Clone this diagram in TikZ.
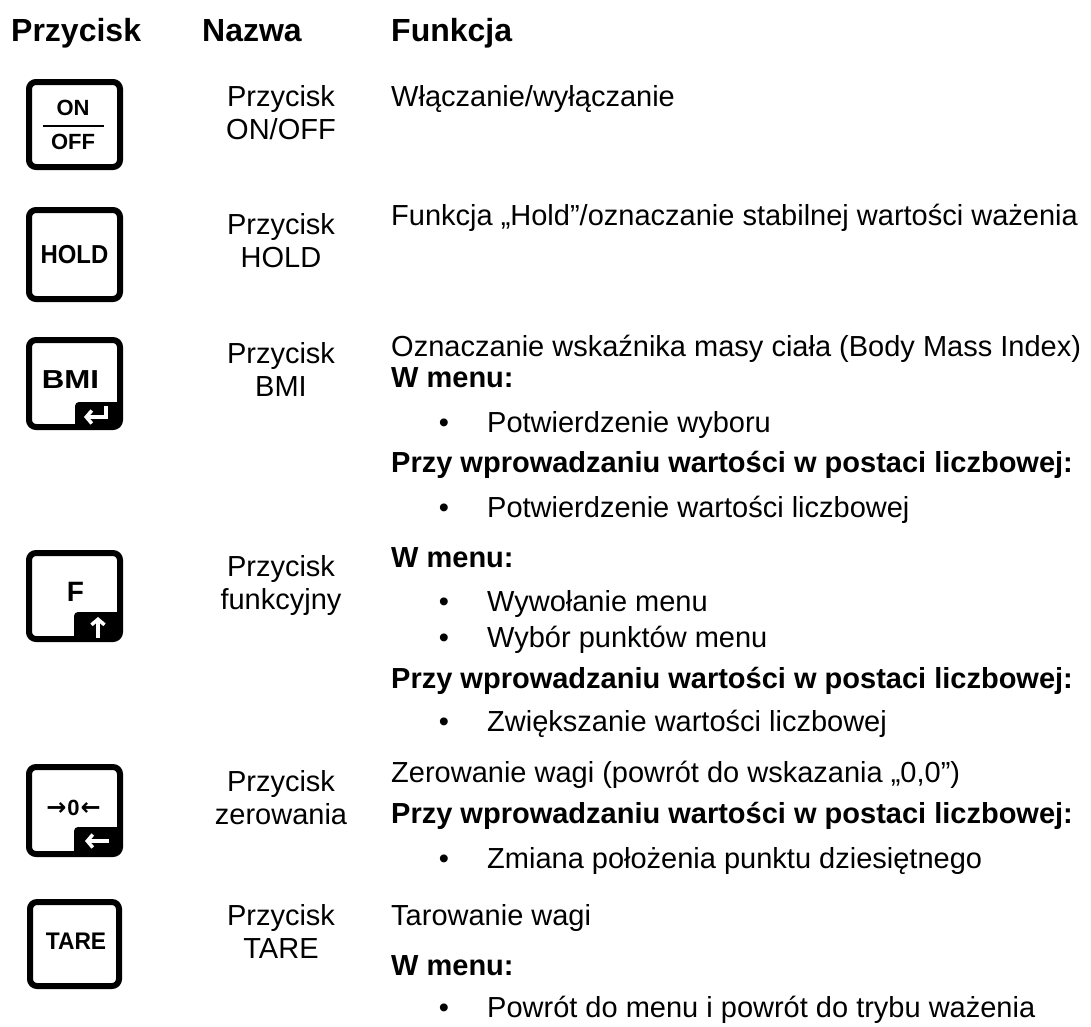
\documentclass[tikz,border=0pt]{standalone}
\usepackage{fontspec}
\setmainfont{Liberation Sans}
\newfontfamily\arrowfont{DejaVu Sans}
\usetikzlibrary{arrows.meta}
\newcommand{\bodysize}{\fontsize{29pt}{33pt}\selectfont}
\newcommand{\headsize}{\fontsize{32pt}{36pt}\selectfont\bfseries}
\newcommand{\keysize}[1]{\fontsize{#1pt}{#1pt}\selectfont\bfseries}

\begin{document}
\begin{tikzpicture}[x=1pt,y=-1pt,
  headtxt/.style={font=\headsize, anchor=base west, inner sep=0pt},
  functxt/.style={font=\bodysize, anchor=base west, inner sep=0pt},
  subtxt/.style={font=\bodysize\bfseries, anchor=base west, inner sep=0pt},
  bulletdot/.style={font=\bodysize, anchor=base, inner sep=0pt},
  namecol/.style={font=\bodysize, anchor=base, inner sep=0pt},
  keybox/.style={draw, line width=6pt, rounded corners=7pt, minimum width=91pt, inner sep=0pt},
  keylabel/.style={inner sep=0pt},
  keytab/.style={rounded corners=4pt},
  tabarrow/.style={white, line width=3.5pt, -{Straight Barb[length=5.5pt,width=13pt]}}
]
  \useasboundingbox (0,0) rectangle (1091,1026);

  % Column heads
  \node[headtxt] (hkey) at (11,41) {Przycisk};
  \node[headtxt] (hname) at (202,41) {Nazwa};
  \node[headtxt] (hfunc) at (391,41) {Funkcja};

  % Keys
  \node[keybox, minimum height=85pt] (konoff) at (74.5,124.5) {};
  \node[keybox, minimum height=89pt] (khold) at (74.5,254.5) {};
  \node[keybox, minimum height=87pt] (kbmi) at (74.5,383.5) {};
  \node[keybox, minimum height=86pt] (kf) at (74.5,596) {};
  \node[keybox, minimum height=87pt] (kzero) at (74.5,810.5) {};
  \node[keybox, minimum height=84pt, minimum width=89pt] (ktare) at (74.5,944) {};

  % Tabs with arrows
  \fill[keytab] (75,402) rectangle (121,428);
  \draw[tabarrow] (106,406) -- (106,417) -- (84,417);
  \fill[keytab] (74,612) rectangle (121,640);
  \draw[tabarrow] (98,638) -- (98,617);
  \fill[keytab] (74,827) rectangle (121,855);
  \draw[tabarrow] (109,841) -- (85,841);

  % Key labels
  \node[keylabel, font=\keysize{22}] (lon) at (73,107.5) {ON};
  \draw[line width=2pt] (43,126) -- (104,126);
  \node[keylabel, font=\keysize{22}] (loff) at (73,141.5) {OFF};
  \node[keylabel, font=\keysize{26}] (lhold) at (74.5,254.5) {\scalebox{0.92}[1]{HOLD}};
  \node[keylabel, font=\keysize{26}] (lbmi) at (70.5,380) {\scalebox{1.2}[1]{BMI}};
  \node[keylabel, font=\keysize{28}] (lf) at (75.5,592) {F};
  \node[keylabel, font=\keysize{22}] (lzero) at (73.5,807.5)
    {{\arrowfont\fontsize{24pt}{24pt}\selectfont →}\kern1pt 0\kern1pt{\arrowfont\fontsize{24pt}{24pt}\selectfont ←}};
  \node[keylabel, font=\keysize{24}] (ltare) at (76,941.5) {\scalebox{0.95}[1]{TARE}};

  % Names
  \foreach \rowid/\second/\ypos in {1/{ON/OFF}/106.5, 2/HOLD/234, 3/BMI/363,
      4/funkcyjny/576, 5/zerowania/791.5, 6/TARE/925.5} {
    \node[namecol] (n\rowid a) at (281,\ypos) {Przycisk};
    \node[namecol] (n\rowid b) at (281,\ypos+33) {\second};
  }

  % Functions
  \node[functxt] (f1) at (391,106.5) {Włączanie/wyłączanie};
  \node[functxt] (f2) at (391,225.5) {Funkcja „Hold”/oznaczanie stabilnej wartości ważenia};
  \node[functxt] (f3) at (391,356) {Oznaczanie wskaźnika masy ciała (Body Mass Index)};
  \node[subtxt] (s3a) at (391,387.5) {W menu:};
  \node[functxt] (b3a) at (487,432.5) {Potwierdzenie wyboru};
  \node[subtxt] (s3b) at (391,472.5) {Przy wprowadzaniu wartości w postaci liczbowej:};
  \node[functxt] (b3b) at (487,517.5) {Potwierdzenie wartości liczbowej};
  \node[subtxt] (s4a) at (391,567) {W menu:};
  \node[functxt] (b4a) at (487,611.5) {Wywołanie menu};
  \node[functxt] (b4b) at (487,647) {Wybór punktów menu};
  \node[subtxt] (s4b) at (391,688) {Przy wprowadzaniu wartości w postaci liczbowej:};
  \node[functxt] (b4c) at (487,731) {Zwiększanie wartości liczbowej};
  \node[functxt] (f5) at (391,782) {Zerowanie wagi (powrót do wskazania „0,0”)};
  \node[subtxt] (s5) at (391,823.5) {Przy wprowadzaniu wartości w postaci liczbowej:};
  \node[functxt] (b5) at (487,868) {Zmiana położenia punktu dziesiętnego};
  \node[functxt] (f6) at (391,925) {Tarowanie wagi};
  \node[subtxt] (s6) at (391,975) {W menu:};
  \node[functxt] (b6) at (487,1017) {Powrót do menu i powrót do trybu ważenia};

  % Bullets
  \foreach \ypos [count=\i] in {432.5,517.5,611.5,647,731,868,1017}
    \node[bulletdot] (dot\i) at (444,\ypos) {•};
\end{tikzpicture}
\end{document}
